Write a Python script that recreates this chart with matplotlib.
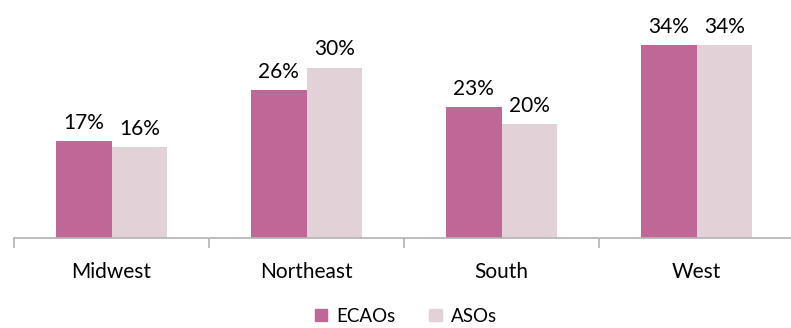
import matplotlib
matplotlib.use("Agg")
import matplotlib.pyplot as plt
import numpy as np
from matplotlib.patches import Patch

regions = ["Midwest", "Northeast", "South", "West"]
ecaos = [17, 26, 23, 34]
asos = [16, 30, 20, 34]
series = ["ECAOs", "ASOs"]
COLORS = ["#bf6796", "#e2d1d6"]

plt.rcParams["font.family"] = ["Lato", "DejaVu Sans"]
FS = 15

fig = plt.figure(figsize=(7.91, 3.28), dpi=100)
ax = fig.add_axes([14 / 791, 90 / 328, 780 / 791, 238 / 328])

x = np.arange(len(regions))
w = 0.287
for off, vals, col in ((-w / 2, ecaos, COLORS[0]), (w / 2, asos, COLORS[1])):
    bars = ax.bar(x + off, vals, width=w, color=col)
    for b, v in zip(bars, vals):
        ax.annotate(f"{v}%", (b.get_x() + b.get_width() / 2, v),
                    xytext=(0, 6), textcoords="offset points",
                    ha="center", va="bottom", fontsize=FS)

ax.set_xlim(-0.5, 3.5)
ax.set_ylim(0, 41.9)
ax.set_yticks([])
for s in ("top", "right", "left"):
    ax.spines[s].set_visible(False)
ax.spines["bottom"].set_color("#b3b3b3")
ax.spines["bottom"].set_linewidth(1.2)
ax.set_xticks(x)
ax.set_xticklabels(regions, fontsize=FS)
ax.tick_params(axis="x", which="major", length=0, pad=17)
ax.set_xticks(np.arange(-0.5, 4, 1), minor=True)
ax.tick_params(axis="x", which="minor", length=7, width=1.2, color="#b3b3b3")

handles = [Patch(color=c, label=s) for c, s in zip(COLORS, series)]
fig.legend(handles=handles, loc="center", bbox_to_anchor=(406 / 791, 1 - 316 / 328),
           ncol=2, frameon=False, fontsize=13.5, handlelength=0.65, handleheight=0.65,
           handletextpad=0.5, columnspacing=1.8)

fig.savefig("out.png", dpi=100)
